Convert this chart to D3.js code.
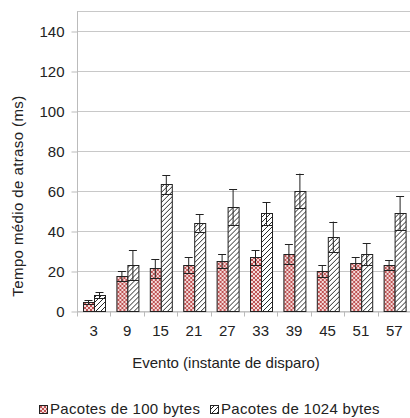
<!DOCTYPE html>
<html>
<head>
<meta charset="utf-8">
<script src="https://cdn.jsdelivr.net/npm/d3@7"></script>
<style>
  body { margin: 0; background: #fff; }
  svg text { font-family: "Liberation Sans", Arial, sans-serif; fill: #222; }
</style>
</head>
<body>
<svg id="chart" width="410" height="418"></svg>
<script>
// data
var eventos = ["3", "9", "15", "21", "27", "33", "39", "45", "51", "57"];
var pac100 = [4.5, 17.5, 21.3, 23, 25, 26.8, 28.5, 20, 24, 23];
var err100 = [1, 2.5, 4.7, 3.8, 3.5, 3.7, 5, 3, 3, 2.5];
var pac1024 = [8, 23, 63.3, 44, 52, 48.8, 60, 37, 28.5, 49];
var err1024 = [1.5, 7.5, 4.7, 4.3, 9, 5.7, 8.7, 7.7, 5.5, 8.5];
var yTicks = [0, 20, 40, 60, 80, 100, 120, 140];
var series = ["Pacotes de 100 bytes", "Pacotes de 1024 bytes"];

var svg = d3.select("#chart");
var mLeft = 77, mTop = 11, mRight = 411, mBottom = 311;

var defs = svg.append("defs");
var p1 = defs.append("pattern").attr("id", "cruz")
  .attr("patternUnits", "userSpaceOnUse").attr("width", 4).attr("height", 4);
p1.append("rect").attr("width", 4).attr("height", 4).attr("fill", "#f4dada");
p1.append("path").attr("d", "M0,0L4,4M4,0L0,4")
  .attr("stroke", "#b84444").attr("stroke-width", 0.9);
var p2 = defs.append("pattern").attr("id", "diag")
  .attr("patternUnits", "userSpaceOnUse").attr("width", 5).attr("height", 5);
p2.append("rect").attr("width", 5).attr("height", 5).attr("fill", "#fff");
p2.append("path").attr("d", "M0,5L5,0M-1,1L1,-1M4,6L6,4")
  .attr("stroke", "#111").attr("stroke-width", 0.9);

var x = d3.scaleBand().domain(eventos).range([mLeft, mRight]);
var x2 = d3.scaleBand().domain([0, 1]).range([0, x.bandwidth()]).paddingOuter(0.5).paddingInner(0);
var y = d3.scaleLinear().domain([0, 150]).range([mBottom, mTop]);

// grid
svg.append("g").selectAll("line").data(yTicks.concat([150])).enter().append("line")
  .attr("x1", mLeft).attr("x2", mRight)
  .attr("y1", function(d){ return y(d) + 0.5; }).attr("y2", function(d){ return y(d) + 0.5; })
  .attr("stroke", "#c8c8c8");

// y axis
var yAxis = svg.append("g").attr("transform", "translate(" + (mLeft + 0.5) + ",0.5)")
  .call(d3.axisLeft(y).tickValues(yTicks).tickSize(6).tickPadding(7));
yAxis.select(".domain").attr("stroke", "#bbb").attr("d", "M0," + mTop + "V" + mBottom);
yAxis.selectAll(".tick line").attr("stroke", "#bbb");
yAxis.selectAll("text").style("font-size", "15px")
  .attr("fill", "#222").attr("font-family", null);

// x axis
var xAxis = svg.append("g").attr("transform", "translate(0," + (mBottom + 0.5) + ")")
  .call(d3.axisBottom(x).tickSize(0).tickPadding(14));
xAxis.select(".domain").attr("stroke", "#bbb");
xAxis.selectAll("text").style("font-size", "15px")
  .attr("fill", "#222").attr("font-family", null);
xAxis.selectAll(".sep").data(eventos).enter().append("line")
  .attr("x1", function(d){ return Math.round(x(d)) + 0.5; })
  .attr("x2", function(d){ return Math.round(x(d)) + 0.5; })
  .attr("y1", 0).attr("y2", 5).attr("stroke", "#bbb");

// bars
var rows = eventos.map(function(e, i) {
  return [
    { ev: e, s: 0, v: pac100[i], er: err100[i] },
    { ev: e, s: 1, v: pac1024[i], er: err1024[i] }
  ];
});
var grupos = svg.append("g").selectAll("g").data(rows).enter().append("g")
  .attr("transform", function(d){ return "translate(" + x(d[0].ev) + ",0)"; });

grupos.selectAll("rect").data(function(d){ return d; }).enter().append("rect")
  .attr("x", function(d){ return Math.round(x2(d.s)) + 0.5; })
  .attr("width", Math.round(x2.bandwidth()))
  .attr("y", function(d){ return Math.round(y(d.v)) + 0.5; })
  .attr("height", function(d){ return Math.round(y(0)) - Math.round(y(d.v)); })
  .attr("fill", function(d){ return d.s === 0 ? "url(#cruz)" : "url(#diag)"; })
  .attr("stroke", "#222").attr("stroke-width", 1);

// error bars
var eb = grupos.selectAll(".eb").data(function(d){ return d; }).enter().append("g");
eb.append("line")
  .attr("x1", function(d){ return Math.round(x2(d.s) + x2.bandwidth() / 2) + 0.5; })
  .attr("x2", function(d){ return Math.round(x2(d.s) + x2.bandwidth() / 2) + 0.5; })
  .attr("y1", function(d){ return y(d.v + d.er); })
  .attr("y2", function(d){ return y(d.v - d.er); })
  .attr("stroke", "#222");
eb.append("line")
  .attr("x1", function(d){ return Math.round(x2(d.s) + x2.bandwidth() / 2) - 3.5; })
  .attr("x2", function(d){ return Math.round(x2(d.s) + x2.bandwidth() / 2) + 4.5; })
  .attr("y1", function(d){ return Math.round(y(d.v + d.er)) + 0.5; })
  .attr("y2", function(d){ return Math.round(y(d.v + d.er)) + 0.5; })
  .attr("stroke", "#222");
eb.append("line")
  .attr("x1", function(d){ return Math.round(x2(d.s)) + 0.5; })
  .attr("x2", function(d){ return Math.round(x2(d.s) + x2.bandwidth()) + 0.5; })
  .attr("y1", function(d){ return Math.round(y(d.v - d.er)) + 0.5; })
  .attr("y2", function(d){ return Math.round(y(d.v - d.er)) + 0.5; })
  .attr("stroke", "#222");

// titles
svg.append("text").attr("x", 226).attr("y", 368).attr("text-anchor", "middle")
  .style("font-size", "15px")
  .text("Evento (instante de disparo)");
svg.append("text").attr("transform", "translate(23,196) rotate(-90)")
  .attr("text-anchor", "middle").style("font-size", "15px").style("letter-spacing", "0.4px")
  .text("Tempo médio de atraso (ms)");

// legend
var legX = [39, 210];
var leg = svg.append("g").selectAll("g").data(series).enter().append("g")
  .attr("transform", function(d, i){ return "translate(" + legX[i] + ",405)"; });
leg.append("rect").attr("x", 0.5).attr("y", 0.5).attr("width", 8).attr("height", 8)
  .attr("fill", function(d, i){ return i === 0 ? "url(#cruz)" : "url(#diag)"; })
  .attr("stroke", "#222");
leg.append("text").attr("x", 11).attr("y", 9).style("font-size", "15px").style("letter-spacing", "0.3px")
  .text(function(d){ return d; });
</script>
</body>
</html>
